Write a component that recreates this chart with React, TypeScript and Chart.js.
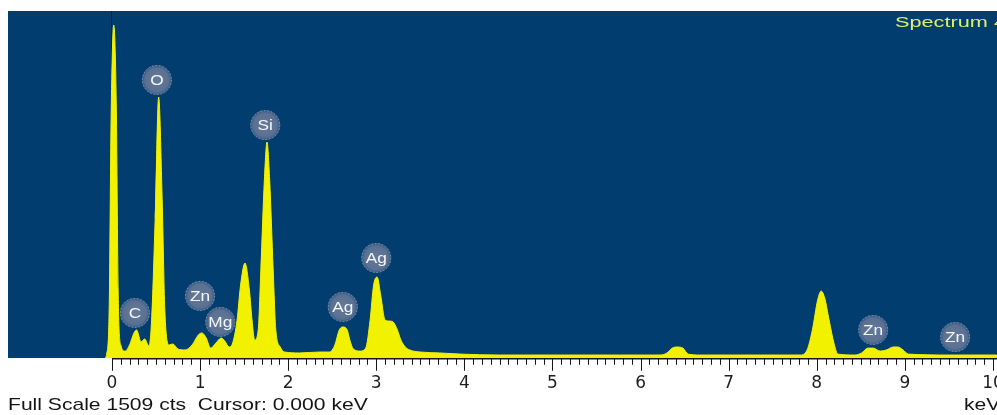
import React, { useEffect, useRef } from "react";
import { Chart, registerables } from "chart.js";

Chart.register(...registerables);

// EDS spectrum: energy (keV) and counts
const SPECTRUM_KEV = [
  -0.08, -0.06, -0.03, -0.01, 0.02, 0.05, 0.07, 0.1, 0.15, 0.2,
  0.25, 0.28, 0.33, 0.37, 0.42, 0.45, 0.49, 0.53, 0.57, 0.6,
  0.65, 0.69, 0.75, 0.83, 0.91, 0.98, 1.02, 1.07, 1.12, 1.18,
  1.24, 1.28, 1.33, 1.37, 1.42, 1.46, 1.51, 1.56, 1.59, 1.62,
  1.66, 1.69, 1.73, 1.76, 1.79, 1.83, 1.86, 1.91, 1.96, 2.13,
  2.36, 2.47, 2.53, 2.58, 2.62, 2.67, 2.7, 2.74, 2.82, 2.88,
  2.93, 2.97, 3.01, 3.05, 3.1, 3.14, 3.19, 3.24, 3.28, 3.33,
  3.38, 3.5, 3.72, 3.95, 4.4, 5.09, 5.77, 6.22, 6.3, 6.36,
  6.41, 6.48, 6.54, 6.67, 7.36, 7.81, 7.89, 7.95, 8.01, 8.05,
  8.09, 8.14, 8.2, 8.24, 8.43, 8.51, 8.58, 8.64, 8.72, 8.79,
  8.87, 8.92, 8.98, 9.04, 9.51, 10.08, 10.22,
];
const SPECTRUM_CTS = [
  0, 17, 252, 1035, 1448, 1079, 296, 57, 30, 57,
  109, 122, 70, 83, 52, 165, 600, 1135, 687, 209,
  57, 61, 39, 35, 57, 100, 109, 87, 43, 65,
  87, 74, 48, 65, 165, 317, 413, 296, 165, 78,
  122, 383, 774, 939, 774, 383, 122, 48, 26, 22,
  26, 26, 57, 122, 135, 122, 78, 39, 30, 43,
  165, 317, 352, 274, 165, 161, 157, 122, 78, 48,
  35, 26, 22, 17, 13, 13, 13, 13, 22, 43,
  48, 43, 17, 13, 13, 13, 35, 122, 252, 291,
  261, 165, 57, 17, 13, 22, 43, 43, 30, 35,
  48, 48, 35, 17, 13, 13, 13,
];

// Element markers: symbol, energy and the height of the marker centre (counts)
const PEAK_LABELS = ["O", "Si", "C", "Zn", "Mg", "Ag", "Ag", "Zn", "Zn"];
const PEAK_LABEL_KEV = [0.51, 1.74, 0.26, 1.0, 1.23, 2.62, 3.0, 8.64, 9.57];
const PEAK_LABEL_CTS = [1209, 1013, 196, 270, 157, 222, 435, 122, 91];

const TICK_LABELS = ["0", "1", "2", "3", "4", "5", "6", "7", "8", "9", "10"];

const FULL_SCALE = 1509;
const SPECTRUM_NAME = "Spectrum 4";
const STATUS_TEXT = "Full Scale 1509 cts  Cursor: 0.000 keV";
const UNIT_TEXT = "keV";

const BG_BLUE = "#023d6f";
const YELLOW = "#f2f200";

function stretchedText(
  ctx: CanvasRenderingContext2D,
  text: string,
  x: number,
  y: number,
  sx: number,
  align: CanvasTextAlign
) {
  ctx.save();
  ctx.translate(x, y);
  ctx.scale(sx, 1);
  ctx.textAlign = align;
  ctx.textBaseline = "middle";
  ctx.fillText(text, 0, 0);
  ctx.restore();
}

const isWhole = (v: number) => Math.abs(v - Math.round(v)) < 1e-6;

const spectrumDecor = {
  id: "spectrumDecor",
  beforeDraw(chart: any) {
    const { ctx, chartArea } = chart;
    ctx.save();
    ctx.fillStyle = BG_BLUE;
    ctx.fillRect(chartArea.left, chartArea.top, chartArea.right - chartArea.left, chartArea.bottom - chartArea.top);
    ctx.restore();
  },
  afterDraw(chart: any) {
    const { ctx, chartArea, scales } = chart;
    const xs = scales.x;
    const ys = scales.y;
    ctx.save();

    // energy ruler: baseline from 0 keV to the right, with 0.1 keV ticks
    const y0 = chartArea.bottom + 0.75;
    ctx.strokeStyle = "#151515";
    ctx.lineWidth = 1.5;
    ctx.beginPath();
    ctx.moveTo(xs.getPixelForValue(0), y0);
    ctx.lineTo(chart.width, y0);
    ctx.stroke();
    ctx.lineWidth = 1;
    ctx.beginPath();
    for (const t of xs.ticks) {
      const px = Math.round(xs.getPixelForValue(t.value)) + 0.5;
      const len = isWhole(t.value) ? 12 : 6;
      ctx.moveTo(px, y0);
      ctx.lineTo(px, y0 + len);
    }
    ctx.stroke();

    // element markers
    for (let i = 0; i < PEAK_LABELS.length; i++) {
      const cx = xs.getPixelForValue(PEAK_LABEL_KEV[i]);
      const cy = ys.getPixelForValue(PEAK_LABEL_CTS[i]);
      const r = 15;
      const g = ctx.createRadialGradient(cx, cy, 2, cx, cy, r);
      g.addColorStop(0, "rgba(106,124,154,0.95)");
      g.addColorStop(0.75, "rgba(100,118,150,0.9)");
      g.addColorStop(1, "rgba(92,112,146,0.55)");
      ctx.fillStyle = g;
      ctx.beginPath();
      ctx.arc(cx, cy, r, 0, Math.PI * 2);
      ctx.fill();
      ctx.setLineDash([1.5, 2]);
      ctx.strokeStyle = "rgba(170,185,205,0.6)";
      ctx.lineWidth = 1;
      ctx.beginPath();
      ctx.arc(cx, cy, r - 0.5, 0, Math.PI * 2);
      ctx.stroke();
      ctx.setLineDash([]);
      ctx.fillStyle = "#f4f6fa";
      ctx.font = '15px "Liberation Sans", Arial, sans-serif';
      stretchedText(ctx, PEAK_LABELS[i], cx, cy + 1, 1.15, "center");
    }

    // spectrum name
    ctx.fillStyle = "#dcef6c";
    ctx.font = '14px "Liberation Sans", Arial, sans-serif';
    stretchedText(ctx, SPECTRUM_NAME, 895, 23, 1.55, "left");

    // status line
    ctx.fillStyle = "#141414";
    ctx.font = '17px "Liberation Sans", Arial, sans-serif';
    stretchedText(ctx, STATUS_TEXT, 8, 405, 1.24, "left");
    stretchedText(ctx, UNIT_TEXT, 964, 405, 1.24, "left");

    ctx.restore();
  },
};

export default function App() {
  const canvasRef = useRef<HTMLCanvasElement | null>(null);

  useEffect(() => {
    if (!canvasRef.current) return;
    const points = SPECTRUM_KEV.map((x, i) => ({ x, y: SPECTRUM_CTS[i] }));
    const tickValues: number[] = [];
    for (let i = 0; i <= 102; i++) tickValues.push(i / 10);

    const chart = new Chart(canvasRef.current, {
      type: "line",
      data: {
        datasets: [
          {
            data: points,
            borderColor: YELLOW,
            backgroundColor: YELLOW,
            borderWidth: 1,
            fill: "origin",
            pointRadius: 0,
            cubicInterpolationMode: "monotone",
          },
        ],
      },
      options: {
        animation: false,
        responsive: true,
        maintainAspectRatio: false,
        layout: { padding: { left: 8, top: 11, right: 0, bottom: 0 } },
        plugins: { legend: { display: false }, tooltip: { enabled: false }, title: { display: false } },
        scales: {
          x: {
            type: "linear",
            min: -1.18,
            max: 10.216,
            z: 1,
            border: { display: false },
            afterBuildTicks: (scale: any) => {
              scale.ticks = tickValues.map((v) => ({ value: v }));
            },
            afterFit: (scale: any) => {
              scale.height = 57;
            },
            grid: {
              drawOnChartArea: true,
              drawTicks: true,
              tickLength: 15,
              tickColor: "rgba(0,0,0,0)",
              color: (c: any) => (c.tick && Math.abs(c.tick.value) < 1e-6 ? "rgba(0,22,50,0.7)" : "rgba(0,0,0,0)"),
              lineWidth: 1,
            },
            ticks: {
              autoSkip: false,
              maxRotation: 0,
              minRotation: 0,
              padding: 0,
              color: "#1e1e1e",
              font: { family: '"DejaVu Sans", sans-serif', size: 17 },
              callback: (v: any) => {
                const n = Number(v);
                if (!isWhole(n)) return "";
                const k = Math.round(n);
                return TICK_LABELS[k] ?? "";
              },
            },
          },
          y: {
            display: false,
            min: 0,
            max: FULL_SCALE,
          },
        },
      },
      plugins: [spectrumDecor],
    });
    return () => chart.destroy();
  }, []);

  return (
    <div style={{ position: "fixed", left: 0, top: 0, width: 997, height: 415, overflow: "hidden", background: "#fff" }}>
      <div style={{ position: "relative", width: 1012, height: 415 }}>
        <canvas ref={canvasRef} />
      </div>
    </div>
  );
}
